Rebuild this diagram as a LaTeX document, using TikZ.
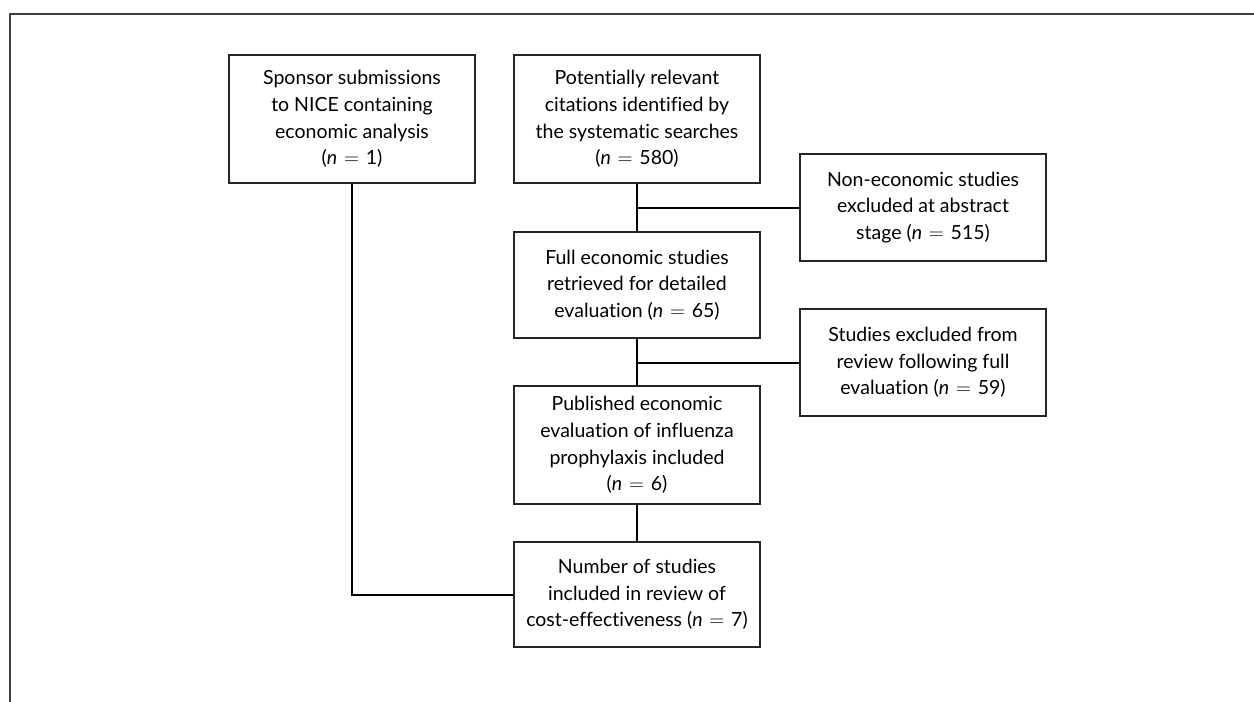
\documentclass[tikz,border=0pt]{standalone}
\usepackage{fontspec}
\setmainfont[Ligatures=NoCommon]{Lato}
\begin{document}
\begin{tikzpicture}[x=1pt,y=-1pt,
  box/.style={draw=black!85, line width=1.7pt, minimum width=246pt, inner sep=0pt, align=center,
    font=\fontsize{19.5}{26.7}\selectfont},
  conn/.style={draw=black, line width=2pt}]
\useasboundingbox (0,0) rectangle (1254,702);
\draw[line width=1.8pt, black!75] (10,702) -- (10,14) -- (1254,14);
\newcommand{\nn}{\textit{n}}
\newcommand{\eq}{\hspace{0.35em}$=$\hspace{0.35em}}
\node[box, minimum height=128pt] (b1) at (352,119) {Sponsor submissions\\to NICE containing\\economic analysis\\(\nn\eq 1)};
\node[box, minimum height=128pt] (b2) at (637,119) {Potentially relevant\\citations identified by\\the systematic searches\\(\nn\eq 580)};
\node[box, minimum height=107pt] (b3) at (923,207.5) {Non-economic studies\\excluded at abstract\\stage (\nn\eq 515)};
\node[box, minimum height=106pt] (b4) at (637,285) {Full economic studies\\retrieved for detailed\\evaluation (\nn\eq 65)};
\node[box, minimum height=107pt] (b5) at (923,362.5) {Studies excluded from\\review following full\\evaluation (\nn\eq 59)};
\node[box, minimum height=118pt] (b6) at (637,445) {Published economic\\evaluation of influenza\\prophylaxis included\\(\nn\eq 6)};
\node[box, minimum height=105pt] (b7) at (637,594.5) {Number of studies\\included in review of\\cost-effectiveness (\nn\eq 7)};
\draw[conn] (b2) -- (b4);
\draw[conn] (b2.south |- b3.west) -- (b3.west);
\draw[conn] (b4) -- (b6);
\draw[conn] (b4.south |- b5.west) -- (b5.west);
\draw[conn] (b6) -- (b7);
\draw[conn] (b1.south) |- (b7.west);
\end{tikzpicture}
\end{document}
